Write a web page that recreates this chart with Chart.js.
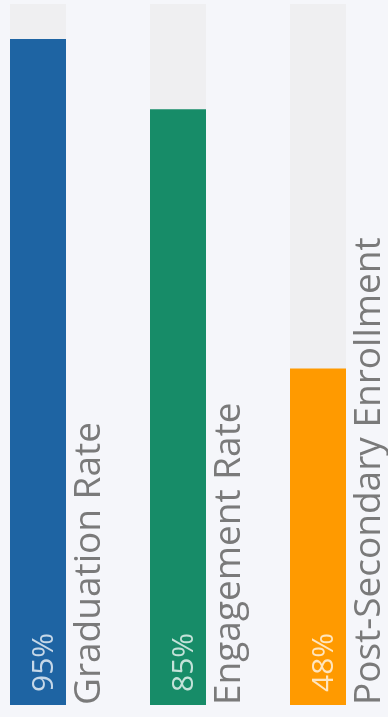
<!DOCTYPE html>
<html>
<head>
<meta charset="utf-8">
<script src="https://cdn.jsdelivr.net/npm/chart.js@4/dist/chart.umd.min.js"></script>
<style>
  html, body { margin: 0; padding: 0; background: #f5f6fa; }
  #wrap { width: 388px; height: 717px; position: relative; }
</style>
</head>
<body>
<div id="wrap"><canvas id="c" width="388" height="717"></canvas></div>
<script>
const categories = ["Graduation Rate", "Engagement Rate", "Post-Secondary Enrollment"];
const values = [95, 85, 48];
const trackValues = [100, 100, 100];
const valueLabels = ["95%", "85%", "48%"];
const barColors = ["#1e64a3", "#178c68", "#ff9a00"];

const labelPlugin = {
  id: 'rotLabels',
  afterDatasetsDraw(chart) {
    const meta = chart.getDatasetMeta(0);
    const ctx = chart.ctx;
    meta.data.forEach((bar, i) => {
      const p = bar.getProps(['x', 'y', 'base', 'width'], true);
      const right = p.x + p.width / 2;
      // category label
      ctx.save();
      ctx.translate(right + 34, p.base);
      ctx.rotate(-Math.PI / 2);
      ctx.font = '37px "Open Sans"';
      ctx.fillStyle = '#7a7a7a';
      ctx.textAlign = 'left';
      ctx.textBaseline = 'alphabetic';
      ctx.fillText(categories[i], 0, 0);
      ctx.restore();
      // value label
      ctx.save();
      ctx.translate(p.x + 15, p.base - 13);
      ctx.rotate(-Math.PI / 2);
      ctx.font = '30px "Open Sans"';
      ctx.fillStyle = 'rgba(255,255,255,0.75)';
      ctx.textAlign = 'left';
      ctx.textBaseline = 'alphabetic';
      ctx.fillText(valueLabels[i], 0, 0);
      ctx.restore();
    });
  }
};

new Chart(document.getElementById('c'), {
  type: 'bar',
  data: {
    labels: categories,
    datasets: [
      {
        data: values,
        backgroundColor: barColors,
        grouped: false,
        order: 1,
        clip: false,
        categoryPercentage: 1,
        barPercentage: 0.4,
        borderWidth: 0
      },
      {
        data: trackValues,
        backgroundColor: '#efeff1',
        grouped: false,
        order: 2,
        clip: false,
        categoryPercentage: 1,
        barPercentage: 0.4,
        borderWidth: 0
      }
    ]
  },
  options: {
    responsive: false,
    animation: false,
    events: [],
    layout: { padding: { left: 38, right: 70, top: 4, bottom: 12 } },
    plugins: { legend: { display: false }, tooltip: { enabled: false } },
    scales: {
      x: { display: false, offset: false, grid: { display: false } },
      y: { display: false, min: 0, max: 100 }
    }
  },
  plugins: [labelPlugin]
});
</script>
</body>
</html>
